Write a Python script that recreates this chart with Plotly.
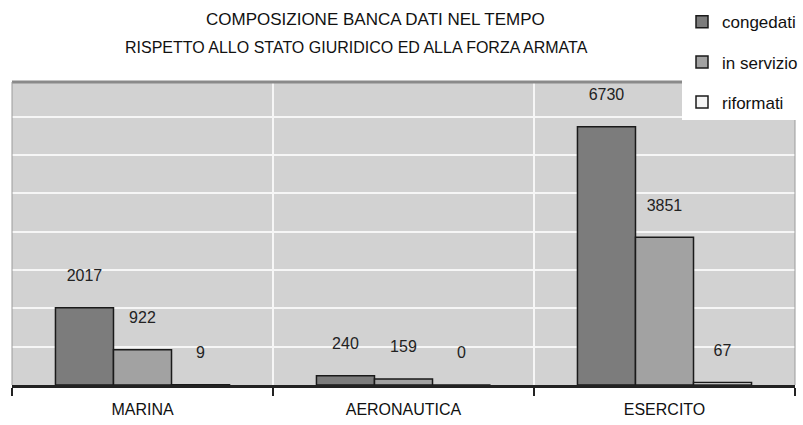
import plotly.graph_objects as go

categories = ["MARINA", "AERONAUTICA", "ESERCITO"]
series_names = ["congedati", "in servizio", "riformati"]
congedati = [2017, 240, 6730]
in_servizio = [922, 159, 3851]
riformati = [9, 0, 67]
title_lines = ["COMPOSIZIONE BANCA DATI NEL TEMPO",
               "RISPETTO ALLO STATO GIURIDICO ED ALLA FORZA ARMATA"]

values = [congedati, in_servizio, riformati]
colors = ["#7c7c7c", "#a2a2a2", "#f4f4f4"]

NARROW = "Liberation Sans Narrow, Arial Narrow, Liberation Sans, Arial, sans-serif"

fig = go.Figure()
for i, (name, vals, col) in enumerate(zip(series_names, values, colors)):
    fig.add_trace(go.Bar(
        x=categories, y=vals, name=name,
        marker=dict(color=col, line=dict(color="#1a1a1a", width=1.5)),
        text=[f"{v}<br> " for v in vals],
        textposition="outside",
        constraintext="none",
        cliponaxis=False,
        textfont=dict(family="Liberation Sans, Arial, sans-serif", size=16, color="#222222"),
        legendgroup=name,
    ))

fig.update_layout(
    width=803, height=425,
    margin=dict(l=12, r=8, t=82, b=40, autoexpand=False),
    paper_bgcolor="white",
    plot_bgcolor="#d2d2d2",
    barmode="group",
    bargap=0.333,
    bargroupgap=0,
    showlegend=True,
    legend=dict(
        x=1.0, xanchor="right", xref="container",
        y=0.99, yanchor="top", yref="container",
        bgcolor="white",
        font=dict(family=NARROW, size=17, color="#111111"),
        tracegroupgap=15,
        itemwidth=30,
    ),
    xaxis=dict(
        tickson="boundaries",
        ticks="outside", ticklen=8, tickwidth=1.5, tickcolor="#222222",
        showline=True, linecolor="#222222", linewidth=2.5,
        showgrid=True, gridcolor="#f6f6f6", gridwidth=1.5,
        tickfont=dict(family=NARROW, size=16, color="#111111"),
        ticklabelstandoff=8,
    ),
    yaxis=dict(
        range=[0, 7900],
        dtick=1000,
        showticklabels=False,
        showgrid=True, gridcolor="#f6f6f6", gridwidth=1.5,
        zeroline=False,
        showline=False,
    ),
    shapes=[
        dict(type="line", xref="paper", yref="paper", x0=0, x1=1, y0=1, y1=1,
             line=dict(color="#8a8a8a", width=3)),
        dict(type="line", xref="paper", yref="paper", x0=0, x1=0, y0=0, y1=1,
             line=dict(color="#9a9a9a", width=1)),
        dict(type="line", xref="paper", yref="paper", x0=1, x1=1, y0=0, y1=1,
             line=dict(color="#9a9a9a", width=1)),
    ],
    annotations=[
        dict(text=title_lines[0], xref="paper", yref="paper", x=0.464, y=1.205,
             xanchor="center", yanchor="middle", showarrow=False,
             font=dict(family=NARROW, size=17, color="#111111")),
        dict(text=title_lines[1], xref="paper", yref="paper", x=0.44, y=1.1155,
             xanchor="center", yanchor="middle", showarrow=False,
             font=dict(family=NARROW, size=16, color="#111111")),
    ],
)

fig.write_html("out.html")
